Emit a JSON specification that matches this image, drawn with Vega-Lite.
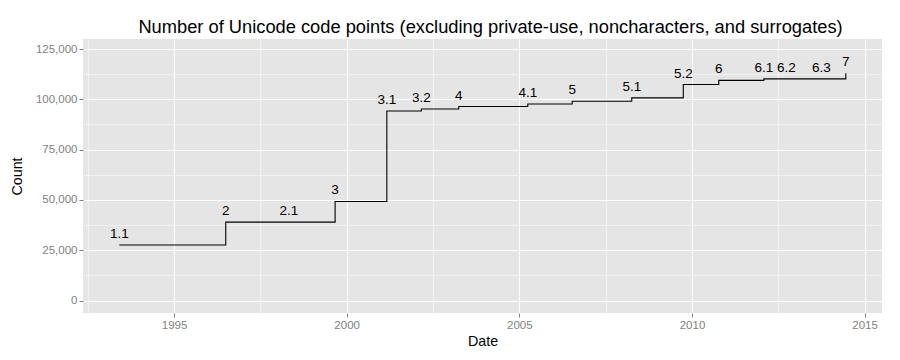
{
  "$schema": "https://vega.github.io/schema/vega-lite/v6.json",
  "width": 799,
  "height": 274,
  "autosize": {"type": "none"},
  "padding": {"left": 83, "top": 39, "right": 18, "bottom": 47},
  "background": "white",
  "title": {
    "text": "Number of Unicode code points (excluding private-use, noncharacters, and surrogates)",
    "font": "Liberation Sans",
    "fontSize": 18.3,
    "fontWeight": "normal",
    "color": "black",
    "anchor": "middle",
    "baseline": "alphabetic",
    "offset": -12,
    "dx": 8
  },
  "config": {
    "view": {"fill": "#E5E5E5", "stroke": null},
    "axis": {
      "domain": false,
      "labelFont": "Liberation Sans",
      "labelFontSize": 11.5,
      "labelColor": "#7F7F7F",
      "tickColor": "#7F7F7F",
      "tickSize": 4,
      "tickWidth": 1,
      "labelPadding": 2,
      "titleFont": "Liberation Sans",
      "titleFontSize": 14.3,
      "titleFontWeight": "normal",
      "titleColor": "black",
      "gridWidth": 1.1
    }
  },
  "data": {
    "values": [
      {"version": "1.1", "date": "1993-06-01", "count": 27577},
      {"version": "2", "date": "1996-07-01", "count": 38950},
      {"version": "2.1", "date": "1998-05-01", "count": 38952},
      {"version": "3", "date": "1999-09-01", "count": 49259},
      {"version": "3.1", "date": "2001-03-01", "count": 94205},
      {"version": "3.2", "date": "2002-03-01", "count": 95221},
      {"version": "4", "date": "2003-04-01", "count": 96447},
      {"version": "4.1", "date": "2005-03-31", "count": 97720},
      {"version": "5", "date": "2006-07-14", "count": 99089},
      {"version": "5.1", "date": "2008-04-04", "count": 100739},
      {"version": "5.2", "date": "2009-10-01", "count": 107361},
      {"version": "6", "date": "2010-10-11", "count": 109449},
      {"version": "6.1", "date": "2012-01-31", "count": 110181},
      {"version": "6.2", "date": "2012-09-26", "count": 110182},
      {"version": "6.3", "date": "2013-09-30", "count": 110187},
      {"version": "7", "date": "2014-06-16", "count": 112956}
    ]
  },
  "encoding": {
    "x": {
      "field": "date",
      "type": "temporal",
      "title": "Date",
      "scale": {
        "type": "utc",
        "domain": [
          {"year": 1992, "month": 5, "date": 13, "utc": true},
          {"year": 2015, "month": 7, "date": 4, "utc": true}
        ]
      },
      "axis": {
        "values": [
          {"year": 1992, "month": 7, "date": 2, "utc": true},
          {"year": 1995, "month": 1, "date": 1, "utc": true},
          {"year": 1997, "month": 7, "date": 2, "utc": true},
          {"year": 2000, "month": 1, "date": 1, "utc": true},
          {"year": 2002, "month": 7, "date": 2, "utc": true},
          {"year": 2005, "month": 1, "date": 1, "utc": true},
          {"year": 2007, "month": 7, "date": 2, "utc": true},
          {"year": 2010, "month": 1, "date": 1, "utc": true},
          {"year": 2012, "month": 7, "date": 2, "utc": true},
          {"year": 2015, "month": 1, "date": 1, "utc": true}
        ],
        "labelExpr": "utcmonth(datum.value) === 0 ? utcFormat(datum.value, '%Y') : ''",
        "gridColor": {"condition": {"test": "utcmonth(datum.value) === 0", "value": "#FFFFFF"}, "value": "#F2F2F2"},
        "tickOpacity": {"condition": {"test": "utcmonth(datum.value) === 0", "value": 1}, "value": 0},
        "titlePadding": 4
      }
    },
    "y": {
      "field": "count",
      "type": "quantitative",
      "title": "Count",
      "scale": {"domain": [-6200, 130000], "nice": false, "zero": false},
      "axis": {
        "values": [0, 12500, 25000, 37500, 50000, 62500, 75000, 87500, 100000, 112500, 125000],
        "labelExpr": "datum.value % 25000 === 0 ? format(datum.value, ',') : ''",
        "gridColor": {"condition": {"test": "datum.value % 25000 === 0", "value": "#FFFFFF"}, "value": "#F2F2F2"},
        "tickOpacity": {"condition": {"test": "datum.value % 25000 === 0", "value": 1}, "value": 0},
        "titlePadding": 11
      }
    }
  },
  "layer": [
    {
      "mark": {"type": "line", "interpolate": "step-after", "color": "black", "strokeWidth": 1.1}
    },
    {
      "mark": {"type": "text", "baseline": "alphabetic", "dy": -7, "font": "Liberation Sans", "fontSize": 13.5, "color": "black"},
      "encoding": {"text": {"field": "version"}}
    }
  ]
}
